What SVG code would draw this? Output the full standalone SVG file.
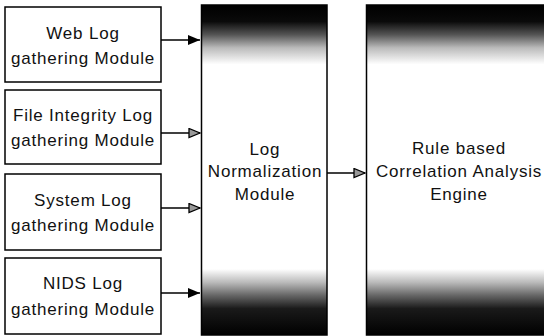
<svg xmlns="http://www.w3.org/2000/svg" width="544" height="336" viewBox="0 0 544 336">
<style>
.box{fill:#fff;stroke:#000;stroke-width:1.5}
.blk{stroke:#000;stroke-width:1.5}
.t{font-family:"Liberation Sans",Arial,sans-serif;font-size:17px;letter-spacing:0.8px;fill:#111;text-anchor:middle}
.c{stroke:#000;stroke-width:1.3;fill:none}
</style>
<defs>
<linearGradient id="g" gradientUnits="userSpaceOnUse" x1="0" y1="5" x2="0" y2="335">
<stop offset="0" stop-color="#000"/>
<stop offset="0.05" stop-color="#0a0a0a"/>
<stop offset="0.09" stop-color="#555"/>
<stop offset="0.13" stop-color="#bbb"/>
<stop offset="0.18" stop-color="#fff"/>
<stop offset="0.8" stop-color="#fff"/>
<stop offset="0.84" stop-color="#bbb"/>
<stop offset="0.88" stop-color="#666"/>
<stop offset="0.92" stop-color="#1a1a1a"/>
<stop offset="1" stop-color="#000"/>
</linearGradient>
<marker id="solid" viewBox="0 0 12 10" refX="12" refY="5" markerWidth="12" markerHeight="10" markerUnits="userSpaceOnUse" orient="auto">
<path d="M0,0 L12,5 L0,10 Z" fill="#000"/>
</marker>
<marker id="hollow" viewBox="0 0 13 11" refX="12" refY="5.5" markerWidth="13" markerHeight="11" markerUnits="userSpaceOnUse" orient="auto">
<path d="M1,1 L12,5.5 L1,10 Z" fill="#999" stroke="#000" stroke-width="1.3"/>
</marker>
</defs>
<g id="connectors">
<line class="c" x1="161" y1="40" x2="200" y2="40" marker-end="url(#solid)"/>
<line class="c" x1="161" y1="133" x2="200" y2="133" marker-end="url(#hollow)"/>
<line class="c" x1="161" y1="208" x2="200" y2="208" marker-end="url(#hollow)"/>
<line class="c" x1="161" y1="293" x2="200" y2="293" marker-end="url(#solid)"/>
<line class="c" x1="327" y1="173" x2="365" y2="173" marker-end="url(#hollow)"/>
</g>
<g id="web">
<rect class="box" x="5" y="7" width="156" height="75"/>
<text class="t" x="83" y="39">Web Log</text>
<text class="t" x="83" y="64">gathering Module</text>
</g>
<g id="file">
<rect class="box" x="5" y="90" width="156" height="74"/>
<text class="t" x="83" y="121">File Integrity Log</text>
<text class="t" x="83" y="146">gathering Module</text>
</g>
<g id="system">
<rect class="box" x="5" y="174" width="156" height="76"/>
<text class="t" x="83" y="206">System Log</text>
<text class="t" x="83" y="231">gathering Module</text>
</g>
<g id="nids">
<rect class="box" x="5" y="258" width="156" height="76"/>
<text class="t" x="83" y="289">NIDS Log</text>
<text class="t" x="83" y="315">gathering Module</text>
</g>
<g id="normalization">
<rect class="blk" x="201.5" y="5" width="125.5" height="330" fill="url(#g)"/>
<text class="t" x="265" y="155">Log</text>
<text class="t" x="265" y="177">Normalization</text>
<text class="t" x="265" y="200">Module</text>
</g>
<g id="engine">
<rect class="blk" x="366.5" y="5" width="190" height="330" fill="url(#g)"/>
<text class="t" x="459" y="154">Rule based</text>
<text class="t" x="459" y="177">Correlation Analysis</text>
<text class="t" x="459" y="200">Engine</text>
</g>
</svg>
